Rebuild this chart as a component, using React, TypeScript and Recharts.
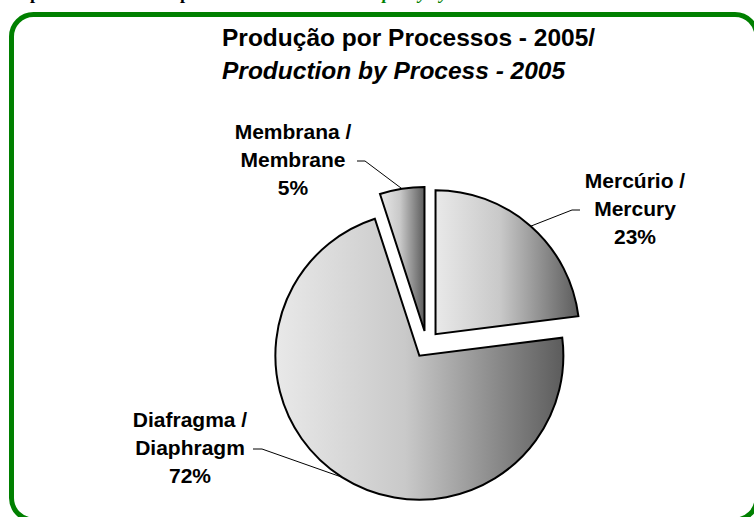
import React from 'react';
import { PieChart, Pie, Cell } from 'recharts';

// ---- data ----
const labelPt = ['Mercúrio /', 'Diafragma /', 'Membrana /'];
const labelEn = ['Mercury', 'Diaphragm', 'Membrane'];
const shares = [23, 72, 5];
const titleLines = ['Produção por Processos - 2005/', 'Production by Process - 2005'];
const headerPt = 'Capacidade Instalada por Processo / ';
const headerEn = 'Installed Capacity by Process';

const data = shares.map((v, i) => ({ name: `${labelPt[i]} ${labelEn[i]}`, value: v, pt: labelPt[i], en: labelEn[i] }));

// ---- layout ----
const W = 754;
const H = 517;
const CENTER = { x: 426.6, y: 344.3 };
const R = 144;
const EXPLODE = 13.5;
const RAD = Math.PI / 180;
const START = 90;
const END = -270;
const FONT = '"Liberation Sans", Arial, Helvetica, sans-serif';

const total = shares.reduce((a, b) => a + b, 0);
const midAngles = shares.map((v, i) => {
  const cum = shares.slice(0, i).reduce((a, b) => a + b, 0);
  return START - (360 * (cum + v / 2)) / total;
});

// label placement (elbow of leader line, end of horizontal tick, text centre & first baseline)
const labelLayout = [
  { elbow: [572, 210], end: [580, 210], tx: 635, ty: 188 },
  { elbow: [262, 449], end: [253, 449], tx: 190, ty: 427 },
  { elbow: [365, 161], end: [357, 161], tx: 293, ty: 139 },
];
const LINE_H = 28;

const renderLabel = (k: number) => (p: any) => {
  if (p.index !== k) return null;
  const lay = labelLayout[k];
  const sx = p.cx + p.outerRadius * Math.cos(-p.midAngle * RAD);
  const sy = p.cy + p.outerRadius * Math.sin(-p.midAngle * RAD);
  const lines = [data[k].pt, data[k].en, `${data[k].value}%`];
  return (
    <g key={`lbl-${k}`}>
      <polyline
        points={`${sx},${sy} ${lay.elbow[0]},${lay.elbow[1]} ${lay.end[0]},${lay.end[1]}`}
        fill="none"
        stroke="#000"
        strokeWidth={1}
      />
      {lines.map((t, i) => (
        <text
          key={i}
          x={lay.tx}
          y={lay.ty + i * LINE_H}
          textAnchor="middle"
          fontFamily={FONT}
          fontWeight="bold"
          fontSize={21}
          fill="#000"
        >
          {t}
        </text>
      ))}
    </g>
  );
};

export default function App() {
  return (
    <div style={{ position: 'absolute', left: 0, top: 0, width: W, height: H, overflow: 'hidden', background: '#fff' }}>
      <svg width={W} height={H} style={{ position: 'absolute', left: 0, top: 0 }}>
        <defs>
          <linearGradient id="sliceGrad" x1="0" y1="0" x2="1" y2="0">
            <stop offset="0" stopColor="#e9e9e9" />
            <stop offset="0.45" stopColor="#c9c9c9" />
            <stop offset="1" stopColor="#5c5c5c" />
          </linearGradient>
        </defs>
        <text x={8} y={-1.5} fontFamily='"Liberation Serif", "Times New Roman", serif' fontWeight="bold" fontSize={18} fill="#000">
          {headerPt}
          <tspan fill="#008000" fontStyle="italic">{headerEn}</tspan>
        </text>
        <rect x={11.5} y={14.5} width={745.5} height={505.5} rx={22} ry={22} fill="#fff" stroke="#008000" strokeWidth={5} />
        <text x={222} y={46} fontFamily={FONT} fontWeight="bold" fontSize={24.5} fill="#000">
          {titleLines[0]}
        </text>
        <text x={222} y={79} fontFamily={FONT} fontWeight="bold" fontStyle="italic" fontSize={24.5} fill="#000">
          {titleLines[1]}
        </text>
      </svg>
      <div style={{ position: 'absolute', left: 0, top: 0 }}>
        <PieChart width={W} height={H} margin={{ top: 0, right: 0, bottom: 0, left: 0 }}>
          {data.map((_, k) => (
            <Pie
              key={k}
              data={data}
              dataKey="value"
              nameKey="name"
              cx={CENTER.x + EXPLODE * Math.cos(midAngles[k] * RAD)}
              cy={CENTER.y - EXPLODE * Math.sin(midAngles[k] * RAD)}
              innerRadius={0}
              outerRadius={R}
              startAngle={START}
              endAngle={END}
              isAnimationActive={false}
              labelLine={false}
              label={renderLabel(k)}
            >
              {data.map((d, j) => (
                <Cell
                  key={j}
                  fill={j === k ? 'url(#sliceGrad)' : 'none'}
                  stroke={j === k ? '#000' : 'none'}
                  strokeWidth={2}
                />
              ))}
            </Pie>
          ))}
        </PieChart>
      </div>
    </div>
  );
}
